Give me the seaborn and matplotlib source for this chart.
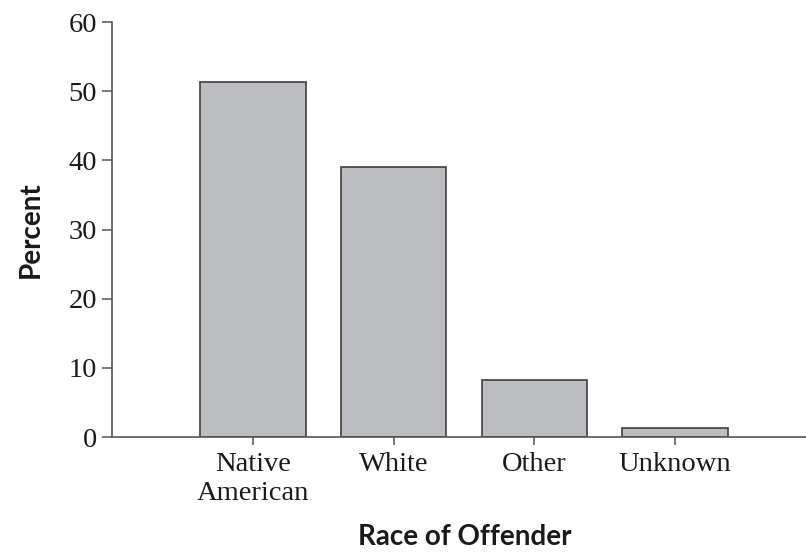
import matplotlib
matplotlib.use('Agg')
import matplotlib.pyplot as plt
import seaborn as sns
import pandas as pd

races = ['Native\nAmerican', 'White', 'Other', 'Unknown']
percent = [51.3, 39.0, 8.2, 1.3]
y_ticks = [0, 10, 20, 30, 40, 50, 60]

df = pd.DataFrame({'race': races, 'percent': percent})

sns.set_style('white')
plt.rcParams['font.family'] = ['Liberation Serif', 'DejaVu Serif']

fig = plt.figure(figsize=(8.06, 5.52), dpi=100)
ax = fig.add_axes([0.139, 0.2083, 0.861, 0.7517])

sns.barplot(data=df, x='race', y='percent', ax=ax, color='#bcbdc0',
            saturation=1, width=0.75, edgecolor='#404040', linewidth=1.2)

ax.set_xlim(-1.0, 3.93)
ax.set_ylim(0, 60)
ax.set_yticks(y_ticks)

for s in ['top', 'right']:
    ax.spines[s].set_visible(False)
for s in ['left', 'bottom']:
    ax.spines[s].set_color('#555555')
    ax.spines[s].set_linewidth(1.2)

ax.tick_params(axis='y', which='both', left=True, length=7, width=1.1,
               color='#555555', labelsize=20.5, pad=4, labelcolor='#1a1a1a')
ax.tick_params(axis='x', which='both', bottom=True, length=6, width=1.1,
               color='#555555', labelsize=20.5, pad=5, labelcolor='#1a1a1a')
for lab in ax.get_xticklabels():
    lab.set_linespacing(1.2)

ax.set_xlabel('')
ax.set_ylabel('')
# axis titles placed in figure pixels to match the reference
fig.text(465 / 806, 1 - 545 / 552, 'Race of Offender', family=['Lato', 'DejaVu Sans'],
         fontweight='bold', fontsize=20, ha='center', va='baseline', color='#1a1a1a')
fig.text(31 / 806, 1 - 230 / 552, 'Percent', family=['Lato', 'DejaVu Sans'],
         fontweight='bold', fontsize=20, ha='center', va='center', rotation=90,
         color='#1a1a1a')

fig.savefig('out.png', dpi=100)
